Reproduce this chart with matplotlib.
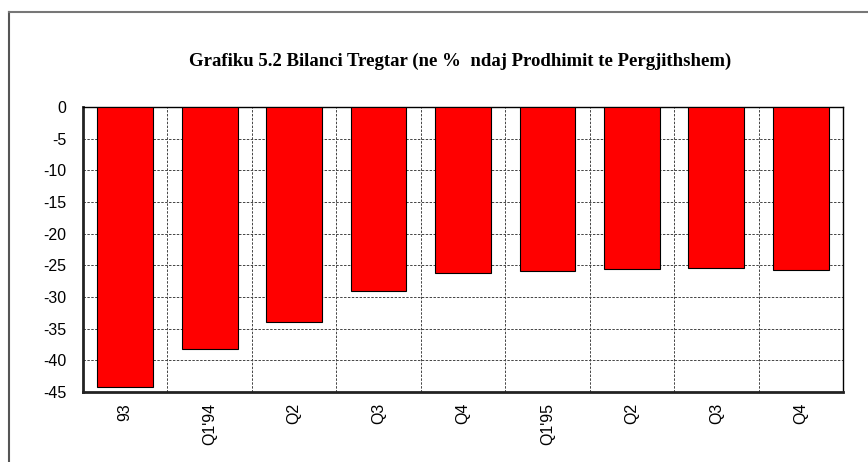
import matplotlib.pyplot as plt
from matplotlib.lines import Line2D

categories = ["93", "Q1'94", "Q2", "Q3", "Q4", "Q1'95", "Q2", "Q3", "Q4"]
values = [-44.2, -38.2, -34.0, -29.0, -26.2, -25.9, -25.5, -25.4, -25.7]
yticks = [0, -5, -10, -15, -20, -25, -30, -35, -40, -45]

fig = plt.figure(figsize=(8.68, 4.62), dpi=100)
ax = fig.add_axes([83 / 868, 1 - 392 / 462, 760 / 868, 285 / 462])

x = list(range(len(categories)))
ax.bar(x, values, width=0.66, color="#ff0000", edgecolor="black", linewidth=0.8, zorder=3)

ax.set_xlim(-0.5, len(categories) - 0.5)
ax.set_ylim(-45, 0)
ax.set_yticks(yticks)
ax.set_yticklabels([str(v) for v in yticks], fontsize=11.5, family="Liberation Sans")
ax.set_xticks(x)
ax.set_xticklabels(categories, rotation=90, fontsize=11.5, family="Liberation Sans")
ax.tick_params(axis="y", length=0, pad=12)
ax.tick_params(axis="x", length=0, pad=8)

# grid: horizontal at ticks, vertical between categories
for v in yticks[1:-1]:
    ax.axhline(v, color="#444444", linestyle=(0, (2.5, 1.5)), linewidth=0.7, zorder=1)
for i in range(1, len(categories)):
    ax.axvline(i - 0.5, color="#444444", linestyle=(0, (2.5, 1.5)), linewidth=0.7, zorder=1)

for side in ["top", "right"]:
    ax.spines[side].set_linewidth(1.0)
for side in ["left", "bottom"]:
    ax.spines[side].set_linewidth(2.0)
    ax.spines[side].set_color("#222222")

fig.text(460 / 868, 1 - 61 / 462, "Grafiku 5.2 Bilanci Tregtar (ne %  ndaj Prodhimit te Pergjithshem)",
         ha="center", va="center", fontsize=13.5, fontweight="bold", family="Liberation Serif")

# outer frame (left and top edges only visible)
fig.add_artist(Line2D([8.5 / 868, 8.5 / 868], [0, 1 - 12 / 462], color="#555555", linewidth=1.5))
fig.add_artist(Line2D([8.5 / 868, 1], [1 - 12 / 462, 1 - 12 / 462], color="#777777", linewidth=1.5))

fig.savefig("out.png", dpi=100)
